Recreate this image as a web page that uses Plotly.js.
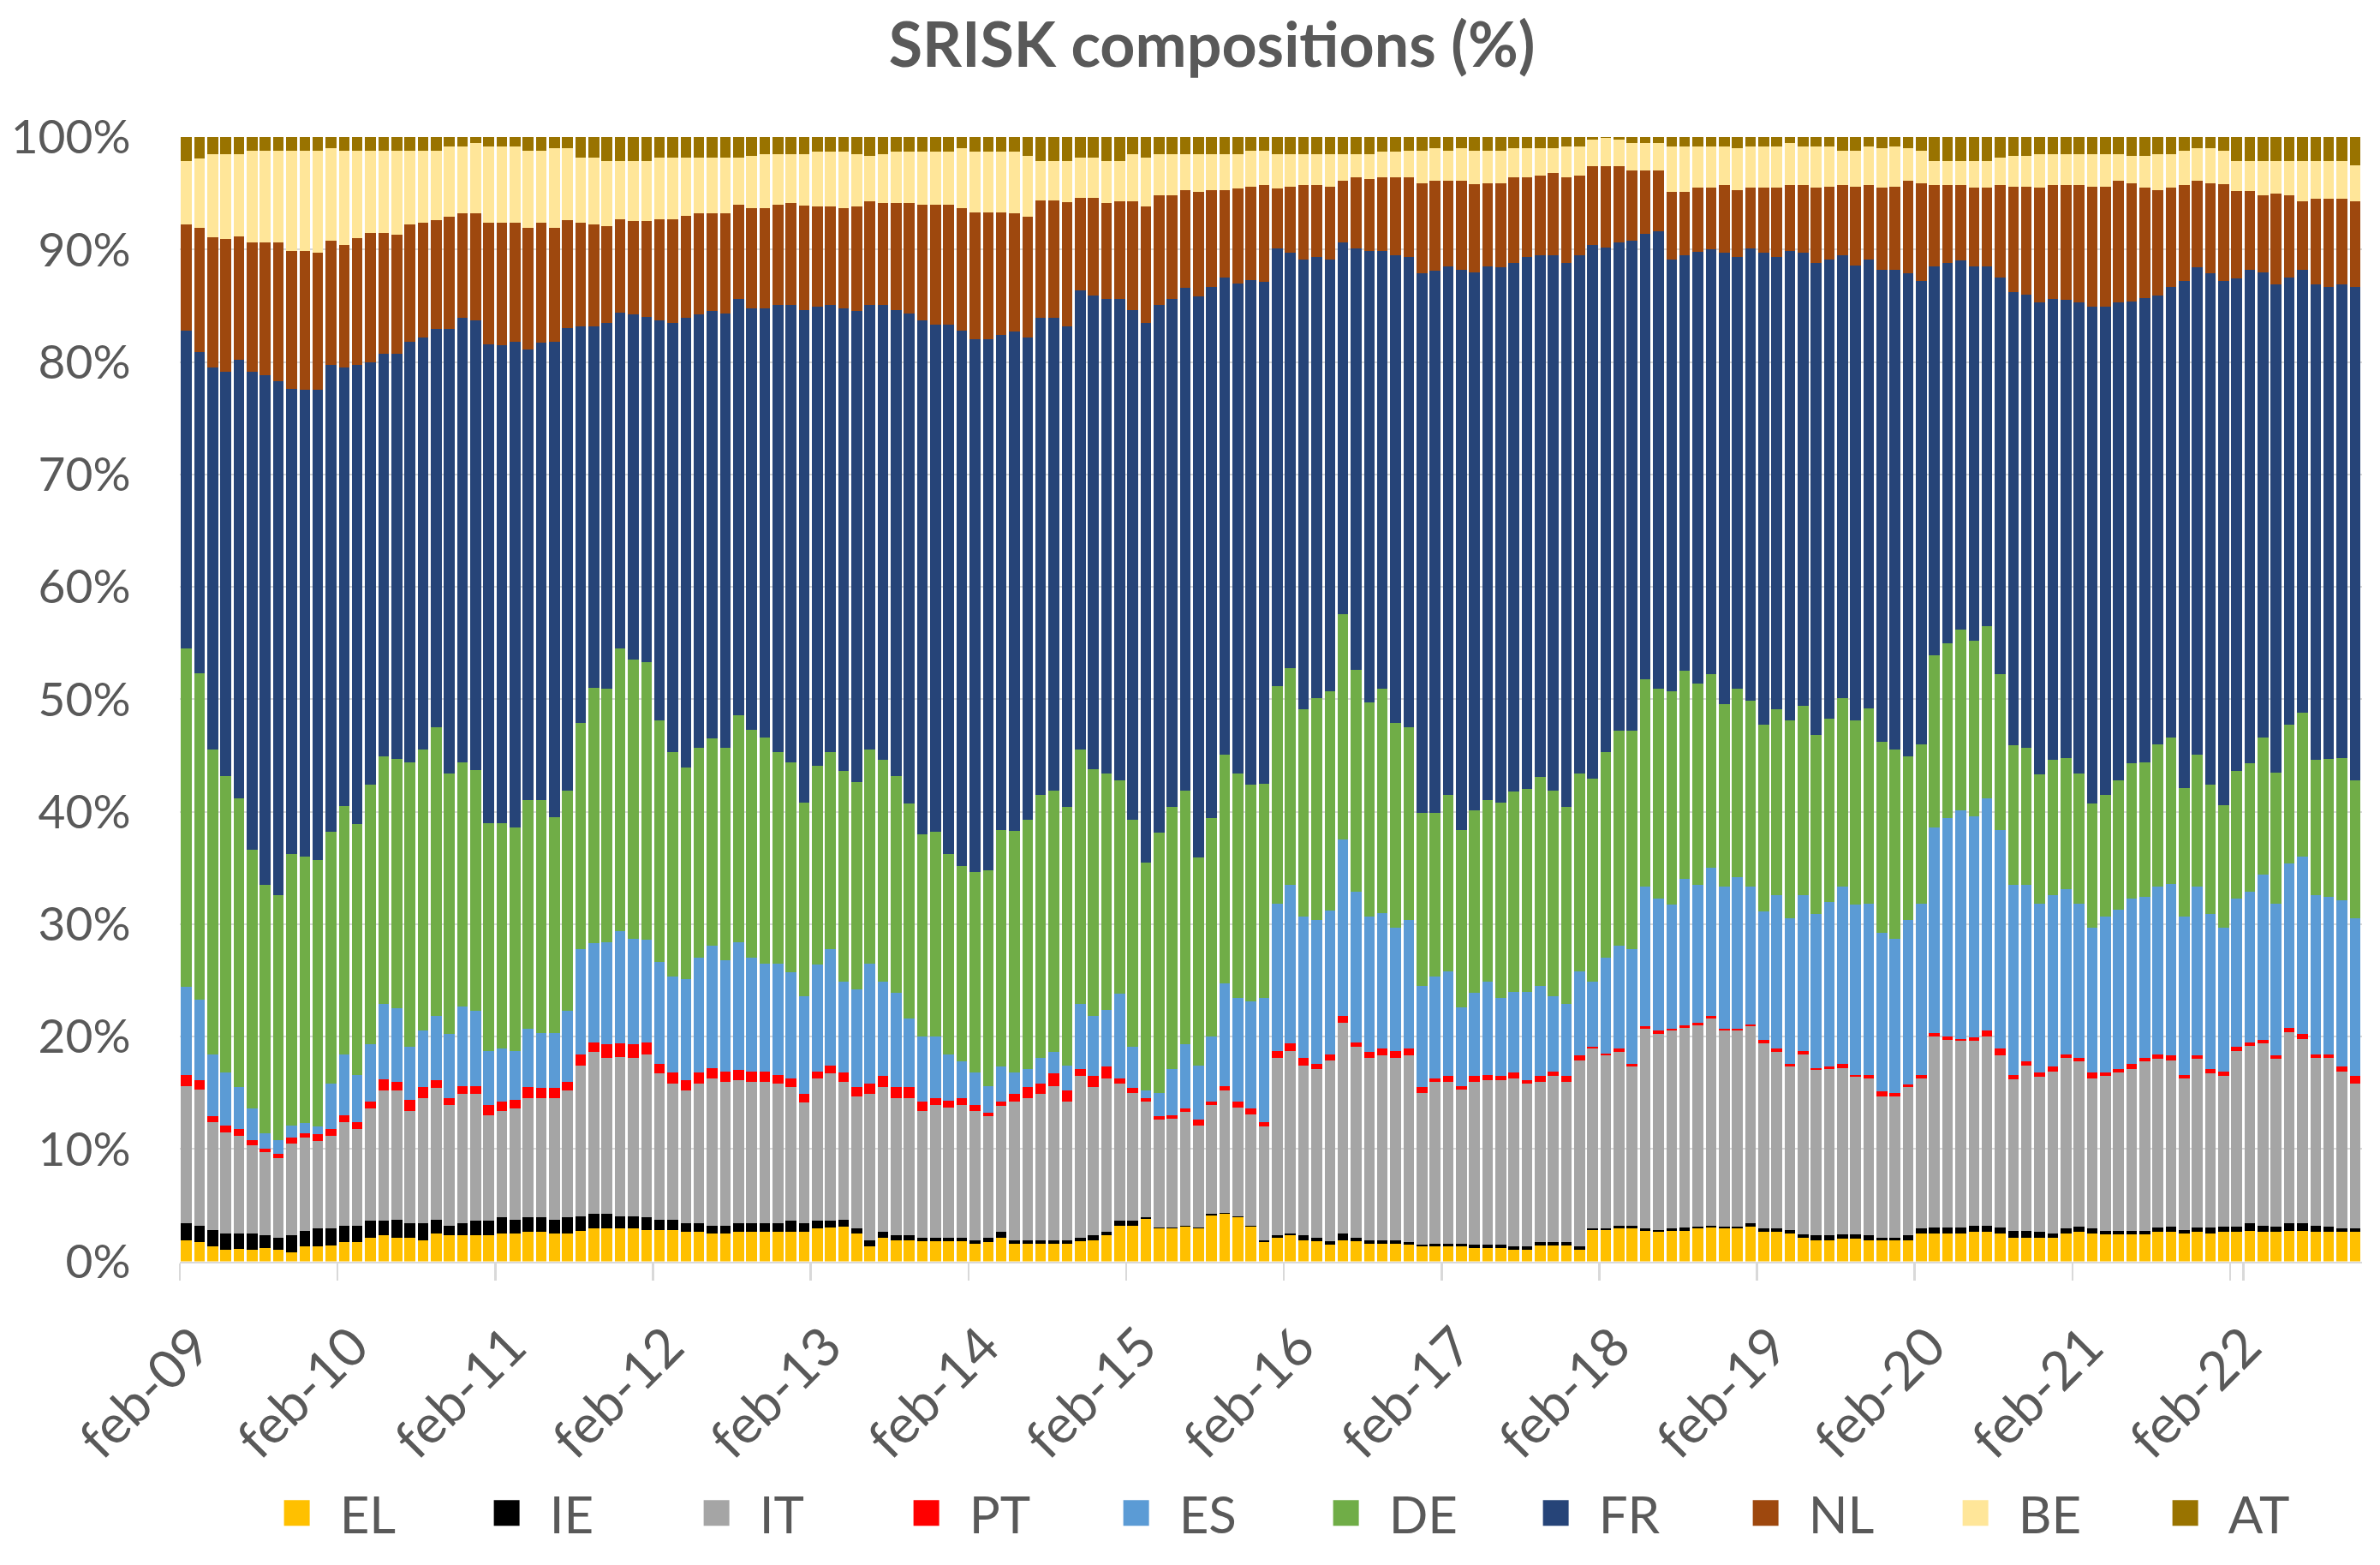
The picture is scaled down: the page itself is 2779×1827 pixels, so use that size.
<!DOCTYPE html>
<html>
<head>
<meta charset="utf-8">
<script src="https://cdn.plot.ly/plotly-3.0.1.min.js"></script>
<style>
  html, body { margin: 0; padding: 0; background: #ffffff; overflow: hidden; width: 2779px; height: 1827px; }
  #chart { width: 1112px; height: 731px; transform: scale(2.5); transform-origin: 0 0; }
</style>
</head>
<body>
<div id="chart"></div>
<script>
// ---- categories (monthly, Feb 2009 - Nov 2022) ----
const monthNames = ['gen','feb','mar','apr','mag','giu','lug','ago','set','ott','nov','dic'];
const firstYear = 2009, firstMonth = 1, nBars = 166;
const categories = [];
for (let i = 0; i < nBars; i++) {
  const m = (firstMonth + i) % 12;
  const y = firstYear + Math.floor((firstMonth + i) / 12);
  categories.push(monthNames[m] + '-' + String(y % 100).padStart(2, '0'));
}
const tickLabels = ['feb-09','feb-10','feb-11','feb-12','feb-13','feb-14','feb-15','feb-16','feb-17','feb-18','feb-19','feb-20','feb-21','feb-22'];

// ---- series values (% share of SRISK) ----
const EL = [1.9,1.7,1.3,1.0,1.1,1.0,1.2,1.0,0.8,1.3, 1.3,1.4,1.7,1.7,2.1,2.3,2.1,2.1,1.9,2.5,
  2.3,2.3,2.3,2.3,2.5,2.5,2.6,2.6,2.5,2.5, 2.7,2.9,2.9,2.9,2.9,2.8,2.8,2.8,2.6,2.6,
  2.5,2.5,2.6,2.6,2.6,2.6,2.6,2.6,2.9,3.0, 3.1,2.5,1.3,2.1,1.9,1.9,1.8,1.8,1.8,1.8,
  1.6,1.7,2.1,1.6,1.6,1.6,1.6,1.6,1.8,1.9, 2.3,3.2,3.2,3.8,2.9,2.9,3.1,2.9,4.1,4.2,
  3.9,3.1,1.7,2.1,2.3,1.9,1.8,1.5,1.9,1.8, 1.6,1.6,1.6,1.5,1.3,1.3,1.3,1.3,1.2,1.2,
  1.2,1.0,1.0,1.4,1.4,1.4,1.0,2.8,2.8,2.9, 2.9,2.7,2.6,2.7,2.7,2.9,3.0,2.9,2.9,3.1,
  2.6,2.6,2.5,2.1,1.9,1.9,2.0,2.0,1.9,1.9, 1.9,1.9,2.5,2.5,2.5,2.5,2.6,2.6,2.5,2.1,
  2.1,2.1,2.1,2.5,2.6,2.5,2.4,2.4,2.4,2.4, 2.6,2.6,2.5,2.6,2.5,2.6,2.6,2.7,2.6,2.6,
  2.7,2.7,2.6,2.6,2.6,2.6];
const IE = [1.5,1.5,1.5,1.5,1.4,1.5,1.1,1.1,1.5,1.4, 1.6,1.5,1.5,1.5,1.5,1.3,1.6,1.3,1.5,1.2,
  0.9,1.1,1.3,1.3,1.4,1.2,1.3,1.3,1.2,1.4, 1.3,1.3,1.3,1.1,1.1,1.1,0.9,0.9,0.8,0.8,
  0.7,0.7,0.8,0.8,0.8,0.8,1.0,0.8,0.7,0.6, 0.6,0.4,0.6,0.5,0.4,0.4,0.3,0.3,0.3,0.3,
  0.3,0.4,0.5,0.3,0.3,0.3,0.3,0.3,0.3,0.4, 0.3,0.4,0.4,0.1,0.1,0.1,0.1,0.1,0.1,0.1,
  0.1,0.1,0.2,0.2,0.2,0.4,0.3,0.3,0.6,0.3, 0.3,0.3,0.3,0.2,0.2,0.3,0.3,0.3,0.3,0.3,
  0.3,0.3,0.3,0.3,0.3,0.3,0.3,0.1,0.1,0.3, 0.3,0.2,0.2,0.2,0.3,0.2,0.2,0.2,0.2,0.3,
  0.3,0.3,0.3,0.3,0.4,0.4,0.4,0.4,0.4,0.2, 0.2,0.4,0.4,0.5,0.5,0.5,0.6,0.6,0.5,0.6,
  0.6,0.5,0.4,0.4,0.5,0.4,0.3,0.3,0.3,0.3, 0.4,0.5,0.3,0.4,0.5,0.5,0.5,0.7,0.6,0.5,
  0.7,0.7,0.6,0.5,0.3,0.3];
const IT = [12.2,12.1,9.6,9.0,8.7,7.8,7.4,7.1,8.2,8.3, 7.8,8.3,9.2,8.6,10.0,11.6,11.5,10.0,11.1,11.7,
  10.7,11.5,11.3,9.4,9.5,9.9,10.6,10.6,10.8,11.3, 13.4,14.4,13.9,14.2,14.1,14.5,13.0,12.1,11.8,12.4,
  13.1,12.8,12.7,12.6,12.6,12.4,11.9,10.7,12.7,13.1, 12.3,11.8,13.0,12.9,12.2,12.2,11.3,11.8,11.6,11.8,
  11.5,10.8,11.2,12.3,12.6,13.0,13.7,12.3,14.4,13.2, 13.7,12.2,11.4,10.3,9.6,9.7,10.1,9.1,9.7,10.9,
  9.7,9.9,10.1,15.8,16.2,15.1,15.0,16.1,18.7,17.0, 16.2,16.4,16.2,16.6,13.5,14.4,14.4,13.7,14.5,14.6,
  14.6,15.0,14.5,14.3,14.8,14.3,16.6,16.0,15.4,15.4, 14.1,17.8,17.4,17.6,17.8,17.9,18.4,17.4,17.4,17.5,
  16.5,15.7,14.5,16.0,14.7,14.8,14.8,14.0,14.0,12.6, 12.6,13.2,13.4,17.0,16.7,16.6,16.4,16.8,15.3,13.5,
  14.7,13.8,14.4,15.2,14.7,13.4,13.8,14.1,14.4,15.1, 15.0,14.8,13.5,15.0,13.7,13.4,15.6,15.8,16.2,14.9,
  17.0,16.4,14.9,15.0,14.0,12.9];
const PT = [1.0,0.8,0.5,0.6,0.6,0.5,0.3,0.4,0.5,0.4, 0.6,0.6,0.6,0.6,0.6,1.0,0.8,1.0,1.0,0.7,
  0.6,0.7,0.7,0.9,0.8,0.8,1.0,0.9,0.9,0.8, 1.0,0.9,1.2,1.2,1.2,1.1,0.9,1.0,0.9,1.0,
  0.9,0.9,0.9,0.9,0.9,0.8,0.8,0.8,0.6,0.7, 0.8,0.8,0.9,1.0,1.0,1.0,0.8,0.6,0.6,0.6,
  0.5,0.3,0.4,0.7,1.0,0.9,1.1,1.0,0.6,1.0, 1.0,0.5,0.4,0.3,0.3,0.3,0.3,0.5,0.3,0.4,
  0.5,0.5,0.4,0.6,0.7,0.7,0.5,0.5,0.6,0.4, 0.5,0.6,0.6,0.6,0.5,0.3,0.5,0.3,0.5,0.5,
  0.4,0.5,0.3,0.5,0.4,0.5,0.4,0.2,0.2,0.3, 0.3,0.2,0.3,0.2,0.2,0.2,0.2,0.2,0.2,0.2,
  0.3,0.3,0.3,0.3,0.2,0.2,0.4,0.2,0.3,0.4, 0.3,0.2,0.3,0.3,0.3,0.2,0.3,0.5,0.6,0.4,
  0.4,0.4,0.4,0.3,0.3,0.5,0.3,0.3,0.5,0.3, 0.4,0.4,0.3,0.3,0.4,0.4,0.4,0.3,0.3,0.3,
  0.4,0.4,0.3,0.3,0.4,0.7];
const ES = [7.8,7.2,5.5,4.7,3.7,2.8,1.4,1.2,1.1,0.9, 0.7,4.0,5.4,4.2,5.1,6.7,6.5,4.7,5.0,5.7,
  5.7,7.1,6.7,4.8,4.7,4.3,5.2,4.9,4.9,6.3, 9.4,8.8,9.1,10.0,9.4,9.1,9.0,8.5,9.0,10.2,
  10.9,9.9,11.4,10.1,9.6,9.9,9.4,8.7,9.5,10.4, 8.1,8.7,10.7,8.4,8.4,6.1,5.8,5.5,4.1,3.3,
  2.9,2.4,3.1,1.9,1.6,2.3,1.9,2.2,5.8,5.3, 5.1,7.5,3.7,0.7,2.1,4.1,5.7,4.8,5.8,9.1,
  9.2,9.5,11.0,13.1,14.1,12.6,12.8,12.8,15.7,13.4, 12.1,12.1,11.0,11.5,9.0,9.0,9.3,7.0,7.4,8.3,
  6.9,7.2,7.9,8.0,6.7,6.4,7.5,5.8,8.5,9.2, 10.2,12.4,11.8,11.0,13.0,12.3,13.2,12.6,13.5,12.2,
  11.4,13.7,12.9,13.9,13.7,14.7,15.7,15.1,15.2,14.1, 13.7,14.7,15.2,18.3,19.4,20.3,19.7,20.7,19.5,16.9,
  15.7,15.0,15.3,14.7,13.7,12.9,13.9,14.2,14.7,14.3, 14.9,15.3,14.1,15.0,13.8,12.8,13.2,13.4,14.7,13.5,
  14.6,15.8,14.2,14.0,14.8,14.0];
const DE = [30.1,29.0,27.1,26.4,25.7,23.0,22.1,21.8,24.1,23.7, 23.7,22.4,22.1,22.3,23.1,22.0,22.2,25.3,25.0,25.7,
  23.2,21.7,21.4,20.3,20.1,19.9,20.3,20.7,19.2,19.6, 20.1,22.7,22.5,25.1,24.8,24.7,21.5,20.0,18.8,18.7,
  18.4,18.9,20.2,20.3,20.1,18.8,18.7,17.2,17.7,17.5, 18.7,18.4,19.0,19.7,19.3,19.1,18.0,18.2,17.8,17.4,
  17.8,19.2,21.1,21.5,22.2,23.4,23.3,23.0,22.6,22.0, 21.0,19.0,20.2,20.3,23.1,23.3,22.6,18.5,19.4,20.4,
  20.0,19.3,19.1,19.4,19.3,18.4,19.7,19.5,20.1,19.7, 19.0,19.9,18.2,17.1,15.4,14.6,15.7,15.8,16.2,16.1,
  17.4,17.8,18.0,18.6,18.3,17.5,17.6,18.0,18.3,19.1, 19.4,18.5,18.6,19.0,18.5,17.9,17.2,16.3,16.7,16.6,
  16.6,16.5,17.6,16.8,15.9,16.3,16.8,16.4,17.4,17.0, 16.8,14.5,14.2,15.3,15.6,16.1,15.6,15.3,13.8,12.4,
  12.2,11.5,12.0,11.7,11.6,11.0,10.8,11.5,12.0,12.0, 12.7,13.0,11.4,11.8,11.5,10.9,11.3,11.4,12.2,11.7,
  12.3,12.8,12.0,12.3,12.7,12.3];
const FR = [28.3,28.6,34.0,35.9,39.0,42.5,45.3,45.7,41.4,41.5, 41.8,41.5,39.0,40.8,37.6,35.8,36.0,37.4,36.7,35.4,
  39.5,39.5,40.0,42.6,42.5,43.2,40.1,40.7,42.3,41.1, 35.3,32.2,32.6,29.9,30.7,30.7,35.6,38.2,40.0,38.5,
  38.0,38.6,37.0,37.5,38.2,39.8,40.7,43.8,40.8,39.8, 41.2,41.9,39.6,40.5,41.4,43.6,45.7,45.1,47.1,47.6,
  47.4,47.2,44.0,44.4,42.9,42.4,42.0,42.8,40.9,42.1, 42.2,42.8,45.3,48.0,47.0,45.2,44.7,49.9,47.3,42.4,
  43.6,44.9,44.6,38.9,36.9,40.0,39.2,38.4,33.0,37.5, 40.2,39.0,41.6,41.8,48.0,48.2,47.0,49.8,47.9,47.5,
  47.6,47.0,47.3,46.4,47.6,48.4,46.1,47.5,44.9,43.4, 43.6,39.6,40.7,38.4,37.0,38.4,37.8,40.1,38.4,40.2,
  42.0,40.2,41.8,40.3,42.0,40.8,39.4,40.5,39.9,42.0, 42.7,43.0,41.2,34.6,33.8,32.8,33.3,32.0,35.3,40.3,
  40.3,42.0,41.0,40.7,41.9,44.2,43.4,42.5,41.1,41.3, 39.9,40.1,45.1,43.3,45.5,46.6,43.8,43.9,41.4,43.4,
  39.8,39.4,42.3,42.0,42.1,43.9];
const NL = [9.4,11.0,11.6,11.8,11.0,11.5,11.8,12.3,12.3,12.4, 12.2,11.1,10.9,11.3,11.5,10.8,10.6,10.4,10.2,9.7,
  10.0,9.3,9.5,10.8,10.9,10.6,10.8,10.7,10.1,9.6, 9.2,9.0,8.6,8.3,8.3,8.5,9.0,9.2,9.1,9.0,
  8.7,8.9,8.4,8.9,8.9,8.9,9.0,9.3,8.9,8.7, 8.9,9.3,9.2,9.0,9.5,9.8,10.3,10.7,10.7,10.9,
  11.3,11.3,10.9,10.5,10.7,10.5,10.5,11.0,8.2,8.7, 8.5,8.7,9.7,10.3,9.7,9.2,8.7,9.3,8.6,7.8,
  8.4,8.3,8.6,5.3,5.9,6.6,6.4,6.5,5.5,6.3, 6.4,6.5,6.9,7.1,8.0,8.0,7.6,7.9,7.8,7.4,
  7.5,7.6,7.1,7.1,7.3,7.6,7.1,7.0,7.2,6.8, 6.2,5.6,5.4,6.0,5.6,5.7,5.5,6.0,6.0,5.4,
  5.8,6.2,5.8,6.0,6.7,6.5,6.2,7.0,6.6,7.3, 7.4,8.2,8.7,7.2,6.9,6.7,7.0,7.0,8.2,9.4,
  9.6,10.2,10.1,10.2,10.4,10.7,10.7,10.8,10.5,9.8, 9.4,8.8,8.5,7.7,8.0,8.6,7.8,7.0,6.8,8.1,
  7.3,6.1,7.6,7.8,7.6,7.6];
const BE = [5.7,6.2,7.4,7.6,7.3,8.2,8.2,8.2,8.9,8.9, 9.1,8.2,8.4,7.8,7.3,7.3,7.5,6.6,6.4,6.2,
  6.3,6.0,6.3,6.8,6.8,6.8,6.9,6.4,7.1,6.4, 5.8,6.0,5.8,5.2,5.4,5.4,5.5,5.5,5.2,5.0,
  5.0,5.0,4.2,4.6,4.8,4.5,4.4,4.6,4.9,4.9, 5.0,4.7,4.0,4.4,4.6,4.6,4.7,4.7,4.7,5.3,
  5.4,5.4,5.4,5.5,5.4,3.5,3.5,3.7,3.6,3.6, 3.8,3.6,4.2,4.4,3.7,3.7,3.2,3.4,3.2,3.2,
  3.1,3.2,3.1,3.1,2.9,2.8,2.8,2.9,2.4,2.1, 2.2,2.3,2.3,2.4,2.9,2.9,2.7,2.9,3.0,2.9,
  2.9,2.6,2.6,2.4,2.2,2.8,2.6,2.4,2.5,2.4, 2.5,2.5,2.5,4.1,4.1,3.7,3.7,3.5,3.7,3.7,
  3.7,3.7,3.8,3.5,3.7,3.6,3.1,3.2,3.5,3.5, 3.6,2.9,2.9,2.2,2.2,2.2,2.4,2.4,2.5,2.7,
  2.7,3.0,2.8,2.8,2.8,2.9,2.9,2.4,2.4,2.8, 3.2,3.0,3.1,2.9,3.1,3.0,2.7,2.7,3.1,2.9,
  3.1,3.6,3.4,3.4,3.4,3.2];
const AT = [2.1,1.9,1.5,1.5,1.5,1.2,1.2,1.2,1.2,1.2, 1.2,1.0,1.2,1.2,1.2,1.2,1.2,1.2,1.2,1.2,
  0.8,0.8,0.5,0.8,0.8,0.8,1.2,1.2,1.0,1.0, 1.8,1.8,2.1,2.1,2.1,2.1,1.8,1.8,1.8,1.8,
  1.8,1.8,1.8,1.7,1.5,1.5,1.5,1.5,1.3,1.3, 1.3,1.5,1.7,1.5,1.3,1.3,1.3,1.3,1.3,1.0,
  1.3,1.3,1.3,1.3,1.7,2.1,2.1,2.1,1.8,1.8, 2.1,2.1,1.5,1.8,1.5,1.5,1.5,1.5,1.5,1.5,
  1.5,1.2,1.2,1.5,1.5,1.5,1.5,1.5,1.5,1.5, 1.5,1.3,1.3,1.2,1.2,1.0,1.2,1.0,1.2,1.2,
  1.2,1.0,1.0,1.0,1.0,0.8,0.8,0.2,0.1,0.2, 0.5,0.5,0.5,0.8,0.8,0.8,0.8,0.8,1.0,0.8,
  0.8,0.8,0.5,0.8,0.8,0.8,1.2,1.2,0.8,1.0, 0.8,1.0,1.2,2.1,2.1,2.1,2.1,2.1,1.8,1.7,
  1.7,1.5,1.5,1.5,1.5,1.5,1.5,1.5,1.7,1.7, 1.5,1.5,1.2,1.0,1.0,1.2,2.1,2.1,2.1,2.1,
  2.1,2.1,2.1,2.1,2.1,2.5];

const seriesNames = ['EL','IE','IT','PT','ES','DE','FR','NL','BE','AT'];
const seriesData = [EL, IE, IT, PT, ES, DE, FR, NL, BE, AT];
const seriesColors = ['#FFC000','#000000','#A5A5A5','#FF0000','#5B9BD5','#70AD47','#264478','#9E480E','#FFE699','#997300'];

const textColor = '#595959';
const fontFamily = 'Lato, "Open Sans", sans-serif';

const traces = seriesNames.map((name, i) => ({
  type: 'bar',
  name: name,
  x: categories,
  y: seriesData[i],
  marker: { color: seriesColors[i], line: { width: 0 } },
  hoverinfo: 'skip'
}));

const layout = {
  width: 1112,
  height: 731,
  margin: { l: 84, r: 9, t: 64, b: 142, pad: 0, autoexpand: false },
  paper_bgcolor: '#ffffff',
  plot_bgcolor: '#ffffff',
  barmode: 'stack',
  barnorm: 'percent',
  bargap: 0.18,
  font: { family: fontFamily, color: textColor },
  title: {
    text: 'SRISK compositions (%)',
    font: { family: fontFamily, size: 28.7, color: textColor, weight: 'bold' },
    x: 0.509, xanchor: 'center', xref: 'container',
    y: 0.971, yanchor: 'middle', yref: 'container'
  },
  xaxis: {
    type: 'category',
    automargin: false,
    tickmode: 'array',
    tickvals: tickLabels,
    ticktext: tickLabels,
    tickangle: -45,
    tickfont: { family: fontFamily, size: 25, color: textColor },
    ticks: 'outside',
    tickson: 'boundaries',
    ticklen: 8,
    tickcolor: '#d9d9d9',
    tickwidth: 1,
    ticklabelstandoff: 14,
    ticklabelshift: 4,
    showline: true,
    linecolor: '#d9d9d9',
    linewidth: 1,
    showgrid: false,
    zeroline: false,
    fixedrange: true
  },
  yaxis: {
    automargin: false,
    range: [0, 100],
    tickmode: 'linear',
    tick0: 0,
    dtick: 10,
    ticksuffix: '%',
    tickfont: { family: fontFamily, size: 22, color: textColor },
    ticklabelstandoff: 22,
    showgrid: true,
    gridcolor: '#d9d9d9',
    gridwidth: 0.8,
    zeroline: false,
    showline: false,
    fixedrange: true
  },
  showlegend: true,
  legend: {
    orientation: 'h',
    xref: 'container', yref: 'container',
    x: 0.1067, xanchor: 'left',
    y: 0.033, yanchor: 'middle',
    font: { family: fontFamily, size: 24, color: textColor },
    traceorder: 'normal',
    entrywidth: 53,
    entrywidthmode: 'pixels',
    bgcolor: 'rgba(0,0,0,0)'
  }
};

Plotly.newPlot('chart', traces, layout, { staticPlot: true, displayModeBar: false });
</script>
</body>
</html>
